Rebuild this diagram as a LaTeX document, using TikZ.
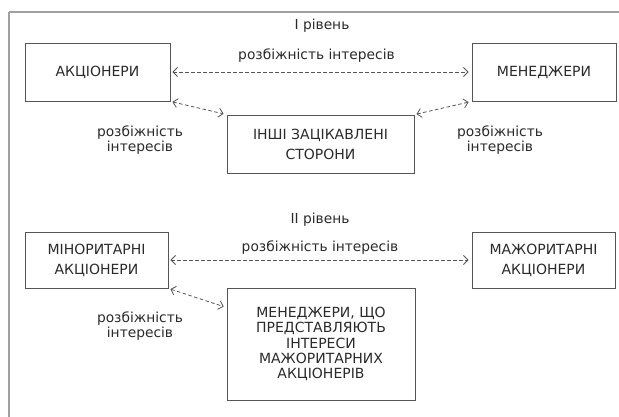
\documentclass[tikz,border=0pt]{standalone}
\usepackage{fontspec}
\setmainfont{DejaVu Sans}
\usetikzlibrary{arrows.meta,calc}
\definecolor{boxline}{HTML}{555555}
\definecolor{txt}{HTML}{2A2A2A}
\definecolor{frame}{HTML}{A0A0A0}
\begin{document}
\begin{tikzpicture}[x=1pt,y=-1pt,
  box/.style={draw=boxline,line width=0.9pt,align=center,inner sep=0pt,text=txt,font=\fontsize{14}{20}\selectfont},
  tightbox/.style={box,font=\fontsize{14}{15.3}\selectfont},
  lbl/.style={align=center,text=txt,inner sep=0pt,font=\fontsize{13.8}{14.5}\selectfont},
  conflict/.style={draw=boxline,line width=0.8pt,dash pattern=on 3.5pt off 2.5pt,
    {Straight Barb[length=4.5pt,width=9pt]}-{Straight Barb[length=4.5pt,width=9pt]},shorten <=2pt,shorten >=3pt}]
\useasboundingbox (0,0) rectangle (619,416);
\draw[frame,line width=1.8pt] (9,12) -- (625,12);
\draw[frame,line width=1.8pt] (9,12) -- (9,420);
% level I
\node[lbl] (lev1) at (322,26) {І рівень};
\node[box,minimum width=145pt,minimum height=58pt] (a1) at (97.5,72) {АКЦІОНЕРИ};
\node[box,minimum width=144pt,minimum height=58pt] (m1) at (544,72) {МЕНЕДЖЕРИ};
\node[box,minimum width=187pt,minimum height=58pt] (o1) at (320.5,144) {ІНШІ ЗАЦІКАВЛЕНІ\\СТОРОНИ};
\node[lbl] (t1) at (316.5,56) {розбіжність інтересів};
\node[lbl] (t2) at (140,140) {розбіжність\\інтересів};
\node[lbl] (t3) at (500,140) {розбіжність\\інтересів};
\draw[conflict] (a1.east) -- (m1.west);
\draw[conflict] (a1.south east) -- (o1.north west);
\draw[conflict] (o1.north east) -- (m1.south west);
% level II
\node[lbl] (lev2) at (320,220) {ІІ рівень};
\node[box,minimum width=143pt,minimum height=56pt] (min) at (96.5,260) {МІНОРИТАРНІ\\АКЦІОНЕРИ};
\node[box,minimum width=143pt,minimum height=56pt] (maj) at (543.5,260) {МАЖОРИТАРНІ\\АКЦІОНЕРИ};
\node[tightbox,minimum width=188pt,minimum height=112pt] (mgr) at (321,344) {МЕНЕДЖЕРИ, ЩО\\ПРЕДСТАВЛЯЮТЬ\\ІНТЕРЕСИ\\МАЖОРИТАРНИХ\\АКЦІОНЕРІВ};
\node[lbl] (t4) at (320,248) {розбіжність інтересів};
\node[lbl] (t5) at (140,326) {розбіжність\\інтересів};
\coordinate (mgrin) at ($(mgr.north west)+(0,20)$);
\draw[conflict] (min.east) -- (maj.west);
\draw[conflict] (min.south east) -- (mgrin);
\end{tikzpicture}
\end{document}
